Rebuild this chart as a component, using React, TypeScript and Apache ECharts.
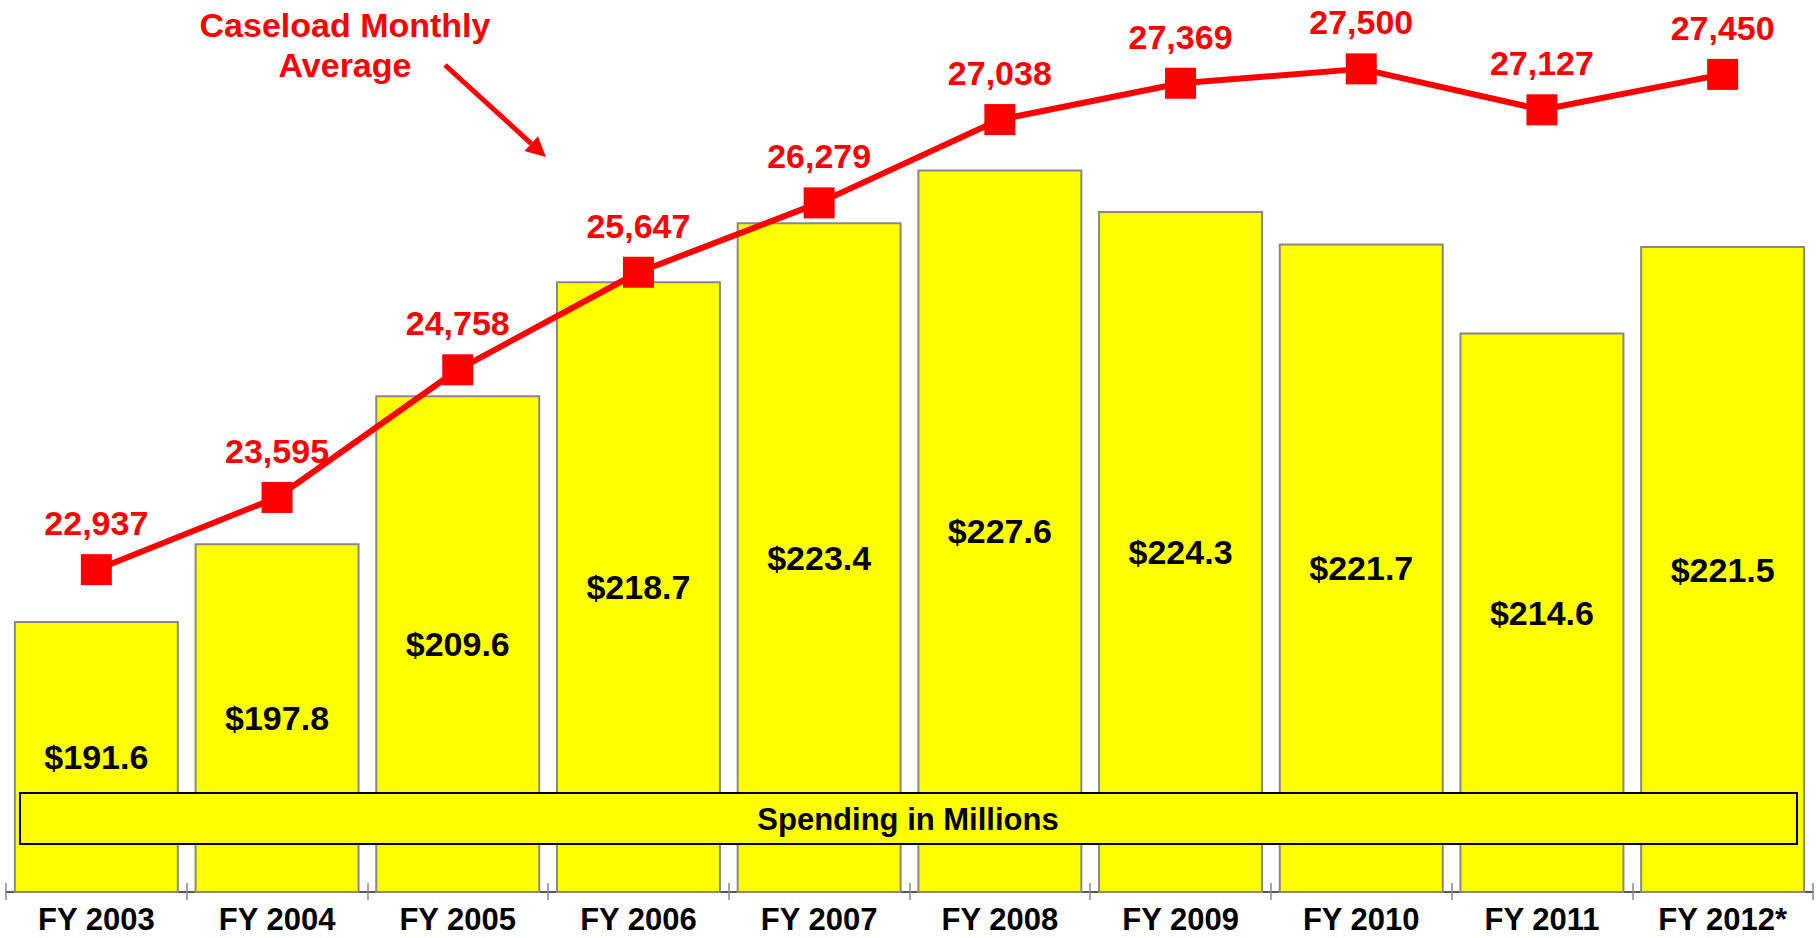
import React, { useEffect, useRef } from "react";
import * as echarts from "echarts";

const categories = ["FY 2003", "FY 2004", "FY 2005", "FY 2006", "FY 2007", "FY 2008", "FY 2009", "FY 2010", "FY 2011", "FY 2012*"];
const spending = [191.6, 197.8, 209.6, 218.7, 223.4, 227.6, 224.3, 221.7, 214.6, 221.5];
const caseload = [22937, 23595, 24758, 25647, 26279, 27038, 27369, 27500, 27127, 27450];

const FONT = "'Liberation Sans', Arial, Helvetica, sans-serif";
const RED = "#FF0000";

export default function App() {
  const ref = useRef<HTMLDivElement>(null);
  useEffect(() => {
    if (!ref.current) return;
    const chart = echarts.init(ref.current, undefined, { renderer: "svg" });
    // arrow geometry
    const tail = [445, 65];
    const tip = [546, 157];
    const dx = tip[0] - tail[0];
    const dy = tip[1] - tail[1];
    const len = Math.sqrt(dx * dx + dy * dy);
    const ux = dx / len, uy = dy / len;
    const hl = 20, hw = 10;
    const bx = tip[0] - ux * hl, by = tip[1] - uy * hl;
    const px = -uy, py = ux;
    chart.setOption({
      animation: false,
      backgroundColor: "#fff",
      textStyle: { fontFamily: FONT },
      grid: { left: 6, right: 5, top: 14, bottom: 46, containLabel: false },
      xAxis: [
        {
          type: "category",
          data: categories,
          position: "bottom",
          axisLine: { show: true, lineStyle: { color: "#222", width: 1.5 } },
          axisTick: { show: true, length: 8, lineStyle: { color: "#888", width: 1.5 } },
          axisLabel: { fontFamily: FONT, fontSize: 31, fontWeight: "bold", color: "#000", margin: 12 },
          splitLine: { show: false },
        },
        {
          type: "category",
          data: categories,
          position: "bottom",
          axisLine: { show: false },
          axisTick: { show: true, inside: true, length: 9, lineStyle: { color: "#888", width: 1.5 } },
          axisLabel: { show: false },
          splitLine: { show: false },
        },
      ],
      yAxis: [
        { type: "value", min: 170, max: 240, show: false, splitLine: { show: false } },
        { type: "value", min: 20000, max: 28000, show: false, splitLine: { show: false } },
      ],
      series: [
        {
          type: "bar",
          data: spending,
          xAxisIndex: 0,
          yAxisIndex: 0,
          barCategoryGap: "8.7%",
          itemStyle: { color: "#FFFF00", borderColor: "#888", borderWidth: 2 },
          label: {
            show: true,
            position: "inside",
            fontFamily: FONT,
            fontSize: 34,
            fontWeight: "bold",
            color: "#000",
            formatter: (p: any) => "$" + Number(p.value).toFixed(1),
          },
          z: 2,
        },
        {
          type: "line",
          data: caseload,
          xAxisIndex: 0,
          yAxisIndex: 1,
          symbol: "rect",
          symbolSize: 31,
          lineStyle: { color: RED, width: 6 },
          itemStyle: { color: RED },
          label: {
            show: true,
            position: "top",
            distance: 14,
            fontFamily: FONT,
            fontSize: 34,
            fontWeight: "bold",
            color: RED,
            formatter: (p: any) => Number(p.value).toLocaleString("en-US"),
          },
          z: 5,
        },
      ],
      graphic: [
        {
          type: "rect",
          shape: { x: 20, y: 793, width: 1777, height: 51 },
          style: { fill: "#FFFF00", stroke: "#000", lineWidth: 2 },
          z: 10,
        },
        {
          type: "text",
          x: 908,
          y: 819,
          style: {
            text: "Spending in Millions",
            fill: "#000",
            font: `bold 31px ${FONT}`,
            textAlign: "center",
            textVerticalAlign: "middle",
          },
          z: 11,
        },
        {
          type: "text",
          x: 345,
          y: 45,
          style: {
            text: "Caseload Monthly\nAverage",
            fill: RED,
            font: `bold 34px ${FONT}`,
            lineHeight: 40,
            textAlign: "center",
            textVerticalAlign: "middle",
          },
          z: 11,
        },
        {
          type: "line",
          shape: { x1: tail[0], y1: tail[1], x2: bx, y2: by },
          style: { stroke: RED, lineWidth: 5 },
          z: 11,
        },
        {
          type: "polygon",
          shape: {
            points: [
              [tip[0], tip[1]],
              [bx + px * hw, by + py * hw],
              [bx - px * hw, by - py * hw],
            ],
          },
          style: { fill: RED },
          z: 11,
        },
      ],
    });
    return () => chart.dispose();
  }, []);
  return <div ref={ref} style={{ position: "fixed", left: 0, top: 0, width: 1818, height: 938 }} />;
}
